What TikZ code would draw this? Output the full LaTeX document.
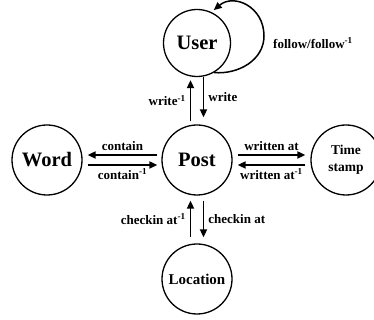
\documentclass[tikz,border=0pt]{standalone}
\usepackage{fontspec}
\setmainfont{Liberation Serif}
\usetikzlibrary{arrows.meta}

\begin{document}
\begin{tikzpicture}[x=1pt, y=1pt,
    vertex/.style={circle, draw, line width=1.3pt, minimum size=70pt, inner sep=0pt,
      font=\bfseries\fontsize{20.5}{22}\selectfont},
    rel/.style={line width=1.8pt, -{Triangle[length=8pt,width=7pt]}},
    lbl/.style={font=\bfseries\fontsize{13}{15}\selectfont, inner sep=2pt}]
    \useasboundingbox (0,0) rectangle (374,320);
    \node[vertex, minimum size=67pt] (user) at (197,277) {User};
    \node[vertex] (post) at (197,160) {Post};
    \node[vertex] (word) at (47,160) {Word};
    \node[vertex, align=center, font=\bfseries\fontsize{13.5}{17}\selectfont] (time) at (346,160) {Time\\stamp};
    \node[vertex, font=\bfseries\fontsize{15}{17}\selectfont] (loc) at (197,41) {Location};

    \coordinate (loopR) at (264,284);
    \draw[line width=1.5pt, -{Triangle[length=8pt,width=7pt]}, shorten >=3pt]
      (user.-60) to[out=-5, in=-90] (loopR) to[out=90, in=40, looseness=1.3] (user.65);
    \node[lbl, anchor=west] (follow) at (271,277) {follow/follow\textsuperscript{-1}};

    \draw[rel] ([xshift=6.5pt]user.south) -- node[lbl, right=2pt] {write} ([xshift=6.5pt,yshift=7pt]post.north);
    \draw[rel] ([xshift=-6.5pt,yshift=3pt]post.north) -- node[lbl, left=2pt] {write\textsuperscript{-1}} ([xshift=-6.5pt,yshift=-3pt]user.south);
    \draw[rel] ([xshift=-4pt,yshift=5pt]post.west) -- node[lbl, above=1pt] {contain} ([xshift=5pt,yshift=5pt]word.east);
    \draw[rel] ([xshift=5pt,yshift=-5pt]word.east) -- node[lbl, below=1pt] {contain\textsuperscript{-1}} ([xshift=-4pt,yshift=-5pt]post.west);
    \draw[rel] ([xshift=5pt,yshift=5pt]post.east) -- node[lbl, above=1pt] {written at} ([xshift=-5pt,yshift=5pt]time.west);
    \draw[rel] ([xshift=-5pt,yshift=-5pt]time.west) -- node[lbl, below=1pt] {written at\textsuperscript{-1}} ([xshift=5pt,yshift=-5pt]post.east);
    \draw[rel] ([xshift=6.5pt,yshift=-5pt]post.south) -- node[lbl, right=2pt] {checkin at} ([xshift=6.5pt,yshift=6pt]loc.north);
    \draw[rel] ([xshift=-6.5pt,yshift=6pt]loc.north) -- node[lbl, left=2pt] {checkin at\textsuperscript{-1}} ([xshift=-6.5pt,yshift=-5pt]post.south);
\end{tikzpicture}
\end{document}
